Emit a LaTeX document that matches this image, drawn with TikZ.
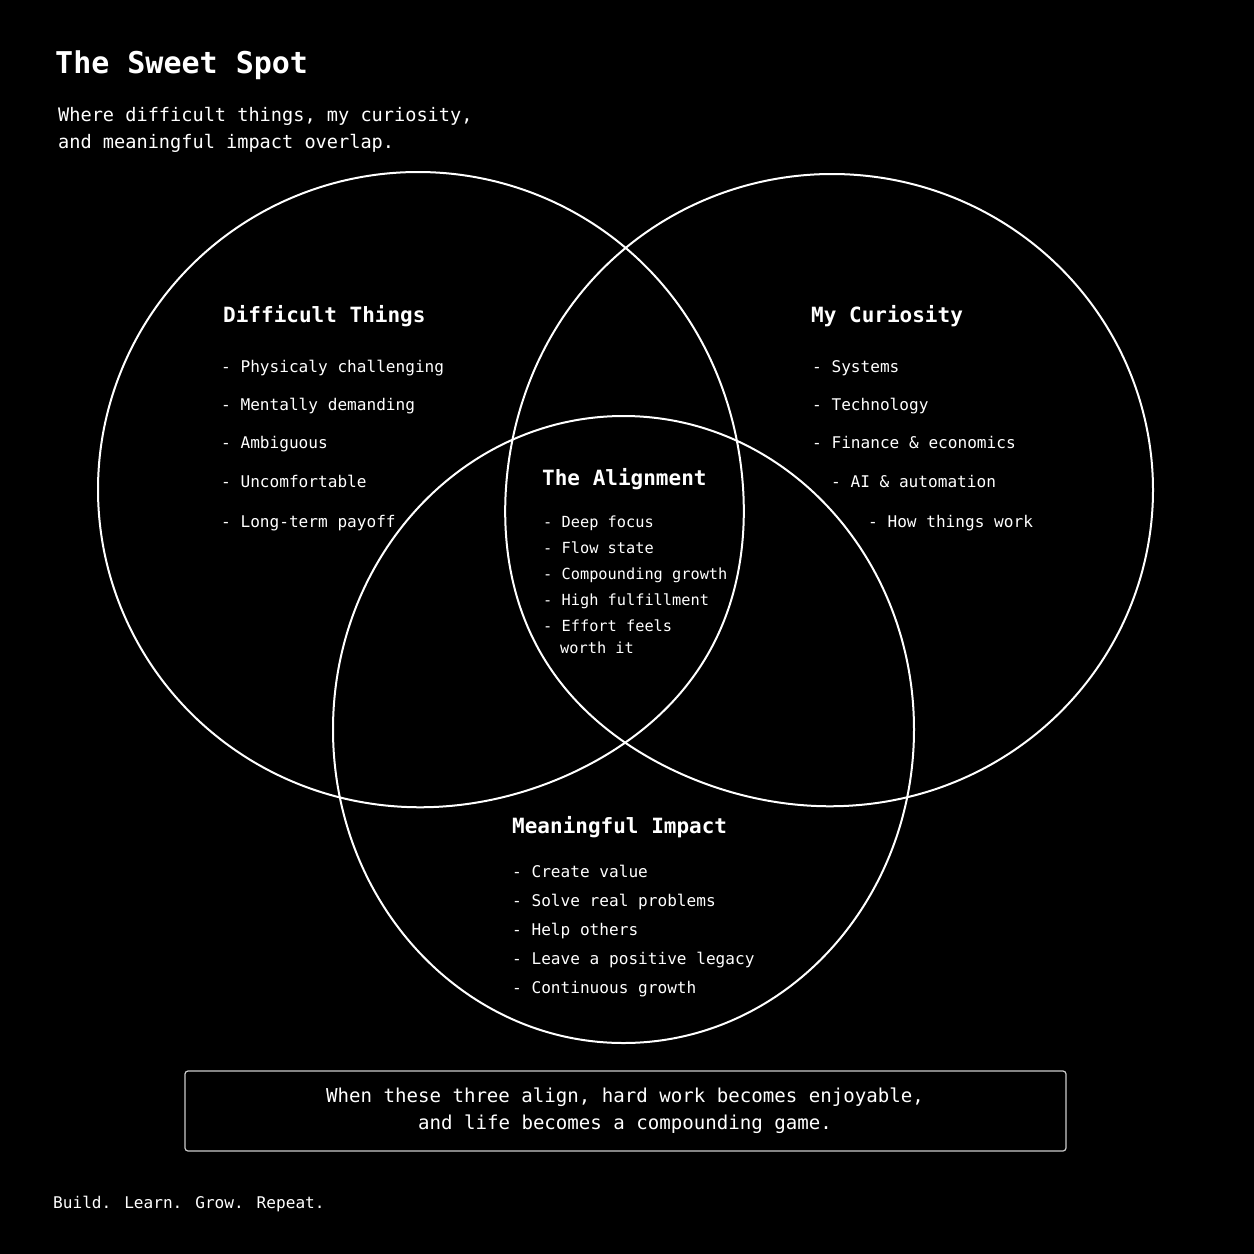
\documentclass[tikz,border=0pt]{standalone}
\usepackage{fontspec}
\setmainfont{DejaVu Sans Mono}
\setmonofont{DejaVu Sans Mono}
\begin{document}
\begin{tikzpicture}[x=1pt,y=-1pt,
  venn/.style={draw=white,line width=2pt},
  txt/.style={text=white,inner sep=0pt,anchor=base west},
  ttl/.style={txt,font=\bfseries\fontsize{30}{36}\selectfont},
  sub/.style={txt,font=\fontsize{18.6}{22}\selectfont},
  head/.style={txt,font=\bfseries\fontsize{21}{25}\selectfont},
  item/.style={txt,font=\fontsize{16.1}{19}\selectfont},
  aitem/.style={txt,font=\fontsize{15.3}{18}\selectfont},
  quote/.style={text=white,inner sep=0pt,anchor=base,font=\fontsize{19.1}{23}\selectfont},
  foot/.style={txt,font=\fontsize{16.1}{20}\selectfont},
  qbox/.style={draw=white!80!black,line width=1.2pt,rounded corners=3pt}]
\fill[black] (0,0) rectangle (1254,1254);
\useasboundingbox (0,0) rectangle (1254,1254);

% circles (slightly bulged toward the lower centre, as in the reference)
\draw[venn] plot[smooth cycle,domain=-150:209,samples=360]
  ({418+(320+14*exp(-((\x-30)/30)^2))*cos(\x)},{489.5+(317.5+14*exp(-((\x-30)/30)^2))*sin(\x)});
\draw[venn] plot[smooth cycle,domain=-30:329,samples=360]
  ({832+(321+14*exp(-((\x-150)/30)^2))*cos(\x)},{490+(316+14*exp(-((\x-150)/30)^2))*sin(\x)});
\draw[venn] (623.5,729.5) ellipse [x radius=290.5pt,y radius=313.5pt];

% title
\node[ttl] (title) at (55,73) {The Sweet Spot};
\node[sub] (sub1) at (58,121) {Where difficult things, my curiosity,};
\node[sub] (sub2) at (58,148) {and meaningful impact overlap.};

% Difficult Things
\node[head] (dth) at (223,322) {Difficult Things};
\node[item] (dt1) at (221,372) {- Physicaly challenging};
\node[item] (dt2) at (221,410) {- Mentally demanding};
\node[item] (dt3) at (221,448) {- Ambiguous};
\node[item] (dt4) at (221,487) {- Uncomfortable};
\node[item] (dt5) at (221,527) {- Long-term payoff};

% My Curiosity
\node[head] (cuh) at (811,322) {My Curiosity};
\node[item] (cu1) at (812,372) {- Systems};
\node[item] (cu2) at (812,410) {- Technology};
\node[item] (cu3) at (812,448) {- Finance \& economics};
\node[item] (cu4) at (831,487) {- AI \& automation};
\node[item] (cu5) at (868,527) {- How things work};

% The Alignment
\node[head] (alh) at (542,485) {The Alignment};
\node[aitem] (al1) at (543,527) {- Deep focus};
\node[aitem] (al2) at (543,553) {- Flow state};
\node[aitem] (al3) at (543,579) {- Compounding growth};
\node[aitem] (al4) at (543,605) {- High fulfillment};
\node[aitem] (al5) at (543,631) {- Effort feels};
\node[aitem] (al6) at (560,653) {worth it};

% Meaningful Impact
\node[head] (mih) at (512,833) {Meaningful Impact};
\node[item] (mi1) at (512,877) {- Create value};
\node[item] (mi2) at (512,906) {- Solve real problems};
\node[item] (mi3) at (512,935) {- Help others};
\node[item] (mi4) at (512,964) {- Leave a positive legacy};
\node[item] (mi5) at (512,993) {- Continuous growth};

% quote box
\draw[qbox] (185,1071) rectangle (1066,1151);
\node[quote] (q1) at (625,1102) {When these three align, hard work becomes enjoyable,};
\node[quote] (q2) at (625,1129) {and life becomes a compounding game.};

% footer
\node[foot] (ft) at (53,1208) {Build. Learn. Grow. Repeat.};
\end{tikzpicture}
\end{document}
